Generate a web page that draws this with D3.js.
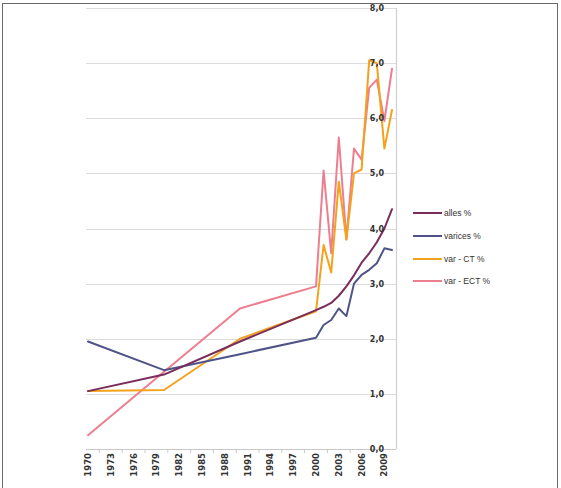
<!DOCTYPE html>
<html>
<head>
<meta charset="utf-8">
<script src="https://cdn.jsdelivr.net/npm/d3@7"></script>
<style>
  html, body { margin: 0; padding: 0; background: #fff; }
  svg { display: block; }
</style>
</head>
<body>
<svg id="chart" width="561" height="488"></svg>
<script>
// Years sampled for every series
const years = [1970, 1980, 1990, 2000, 2001, 2002, 2003, 2004, 2005, 2006, 2007, 2008, 2009, 2010];

// Series values (%)
const alles   = [1.05, 1.35, 1.95, 2.52, 2.58, 2.65, 2.78, 2.95, 3.15, 3.38, 3.55, 3.75, 4.00, 4.35];
const varices = [1.95, 1.43, 1.72, 2.02, 2.25, 2.34, 2.55, 2.41, 3.00, 3.16, 3.25, 3.37, 3.64, 3.61];
const varCT   = [1.05, 1.07, 2.00, 2.50, 3.70, 3.20, 4.85, 3.80, 5.00, 5.07, 7.05, 7.00, 5.45, 6.15];
const varECT  = [0.25, 1.40, 2.55, 2.95, 5.05, 3.55, 5.65, 3.80, 5.45, 5.25, 6.55, 6.70, 5.95, 6.90];

const seriesNames = ["alles %", "varices %", "var - CT %", "var - ECT %"];
const seriesColors = ["#7a2c5c", "#4f5487", "#f3a21e", "#ec7f8f"];

// Axis ticks
const yTicks = [0, 1, 2, 3, 4, 5, 6, 7, 8];
const xTickLabels = [1970, 1973, 1976, 1979, 1982, 1985, 1988, 1991, 1994, 1997, 2000, 2003, 2006, 2009];

const svg = d3.select("#chart");

// Outer frame
svg.append("rect")
  .attr("x", 2.5).attr("y", 3.5).attr("width", 555).attr("height", 490)
  .attr("fill", "none").attr("stroke", "#6a6a6a").attr("stroke-width", 1);

const x = d3.scaleLinear().domain([1970, 2010]).range([88, 392]);
const y = d3.scaleLinear().domain([0, 8]).range([449, 8]);

const plotLeft = 86, plotRight = 396;

// Horizontal gridlines
svg.append("g").selectAll("line")
  .data(yTicks)
  .join("line")
  .attr("x1", plotLeft).attr("x2", plotRight)
  .attr("y1", d => Math.round(y(d)) + 0.5).attr("y2", d => Math.round(y(d)) + 0.5)
  .attr("stroke", d => d === 0 ? "#c8c8c8" : "#dcdcdc")
  .attr("stroke-width", 1.2);

// Right-hand vertical axis line
svg.append("line")
  .attr("x1", plotRight + 0.5).attr("x2", plotRight + 0.5)
  .attr("y1", y(8)).attr("y2", y(0))
  .attr("stroke", "#d0d0d0").attr("stroke-width", 1.2);

// Small tick marks along the bottom axis
const minorTicks = xTickLabels.map(d => d + 1.5).filter(d => d <= 2010);
svg.append("g").selectAll("line")
  .data(minorTicks)
  .join("line")
  .attr("x1", d => x(d)).attr("x2", d => x(d))
  .attr("y1", y(0)).attr("y2", y(0) + 4)
  .attr("stroke", "#c8c8c8").attr("stroke-width", 1);

// Lines
const line = d3.line()
  .x((d, i) => x(years[i]))
  .y(d => y(d));

const allSeries = [alles, varices, varCT, varECT];
// draw order: ECT underneath, then CT, varices, alles
const order = [3, 2, 1, 0];
svg.append("g").selectAll("path")
  .data(order)
  .join("path")
  .attr("d", k => line(allSeries[k]))
  .attr("fill", "none")
  .attr("stroke", k => seriesColors[k])
  .attr("stroke-width", 2)
  .attr("stroke-linejoin", "round")
  .attr("stroke-linecap", "round");

// Y tick labels (drawn over the lines)
svg.append("g").selectAll("text")
  .data(yTicks)
  .join("text")
  .attr("x", 384)
  .attr("y", d => y(d) + 3)
  .attr("text-anchor", "end")
  .attr("font-family", "DejaVu Sans, sans-serif")
  .attr("font-size", 8)
  .attr("font-weight", "bold")
  .attr("fill", "#333")
  .text(d => d3.format(".1f")(d).replace(".", ","));

// X tick labels, rotated
svg.append("g").selectAll("text")
  .data(xTickLabels)
  .join("text")
  .attr("transform", d => `translate(${x(d) + 3},${y(0) + 4}) rotate(-90)`)
  .attr("text-anchor", "end")
  .attr("font-family", "DejaVu Sans, sans-serif")
  .attr("font-size", 8.5)
  .attr("font-weight", "bold")
  .attr("fill", "#333")
  .text(d => d);

// Legend
const legend = svg.append("g");
const legendY = [213, 236, 259, 281];
seriesNames.forEach((name, i) => {
  legend.append("line")
    .attr("x1", 413).attr("x2", 442)
    .attr("y1", legendY[i]).attr("y2", legendY[i])
    .attr("stroke", seriesColors[i]).attr("stroke-width", 2);
  legend.append("text")
    .attr("x", 444).attr("y", legendY[i] + 3)
    .attr("font-family", "Liberation Sans, sans-serif")
    .attr("font-size", 8.5)
    .attr("fill", "#333")
    .text(name);
});
</script>
</body>
</html>
